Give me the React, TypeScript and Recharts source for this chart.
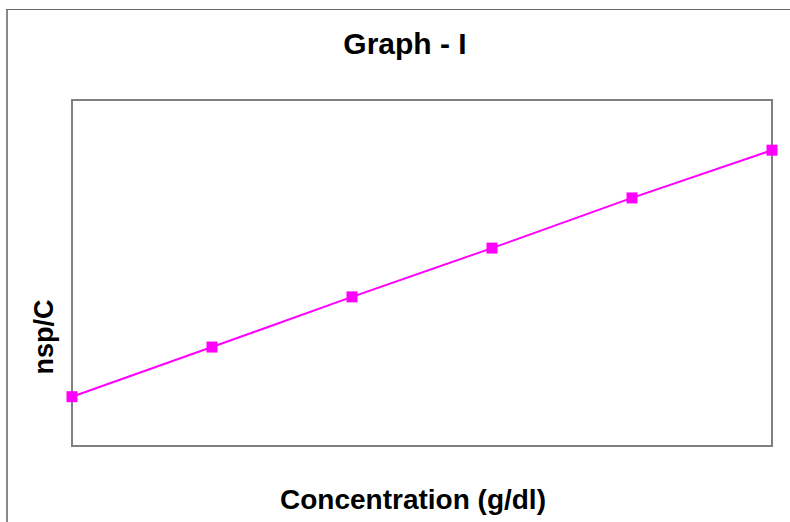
import { LineChart, Line, XAxis, YAxis, ReferenceArea } from 'recharts';

// concentration (g/dl) and reduced viscosity nsp/C (no tick labels shown)
const concentration = [0.2, 0.4, 0.6, 0.8, 1.0, 1.2];
const nspC = [0.1425, 0.286, 0.431, 0.572, 0.717, 0.855];
const yDomain = [0, 1];

const data = concentration.map((c, i) => ({ c, v: nspC[i] }));

const FONT = '"Liberation Sans", Arial, sans-serif';
const MAGENTA = '#FF00FF';

const Square = (props: any) => {
  const { cx, cy } = props;
  if (cx == null || cy == null) return null;
  return <rect x={cx - 5.5} y={cy - 5.5} width={11} height={11} fill={MAGENTA} />;
};

export default function App() {
  return (
    <div
      style={{
        position: 'fixed',
        left: 6,
        top: 9,
        borderLeft: '2px solid #888',
        borderTop: '1px solid #666',
        width: 782,
        height: 512,
        background: '#fff',
      }}
    >
      <LineChart
        width={782}
        height={512}
        data={data}
        margin={{ top: 90, right: 18, bottom: 76, left: 64 }}
      >
        <XAxis
          dataKey="c"
          type="number"
          domain={[concentration[0], concentration[concentration.length - 1]]}
          hide
        />
        <YAxis type="number" domain={yDomain} hide />
        <ReferenceArea
          x1={concentration[0]}
          x2={concentration[concentration.length - 1]}
          y1={yDomain[0]}
          y2={yDomain[1]}
          fill="none"
          stroke="#808080"
          strokeWidth={2}
          fillOpacity={0}
        />
        <Line
          dataKey="v"
          stroke={MAGENTA}
          strokeWidth={2}
          dot={<Square />}
          activeDot={false}
          isAnimationActive={false}
        />
      </LineChart>
      {/* title and axis titles */}
      <svg
        width={782}
        height={512}
        style={{ position: 'absolute', left: 0, top: 0, pointerEvents: 'none' }}
      >
        <g fontFamily={FONT} fontWeight="bold" fill="#000">
          <text x={397} y={44} textAnchor="middle" fontSize={30}>
            Graph - I
          </text>
          <text x={405} y={499} textAnchor="middle" fontSize={28}>
            Concentration (g/dl)
          </text>
          <text
            x={45}
            y={327}
            transform="rotate(-90, 45, 327)"
            textAnchor="middle"
            fontSize={27}
          >
            nsp/C
          </text>
        </g>
      </svg>
    </div>
  );
}
